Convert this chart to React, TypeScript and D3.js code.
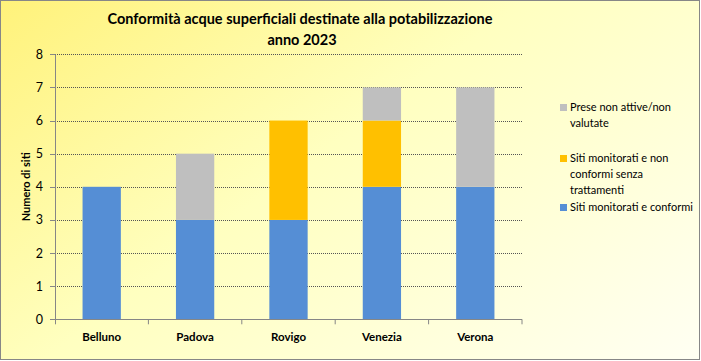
import React from "react";
import * as d3 from "d3";

const categories = ["Belluno", "Padova", "Rovigo", "Venezia", "Verona"];
const conformi = [4, 3, 3, 4, 4];
const nonConformi = [0, 0, 3, 2, 0];
const nonAttive = [0, 2, 0, 1, 3];
const yTicks = [0, 1, 2, 3, 4, 5, 6, 7, 8];

const seriesNames = ["Siti monitorati e conformi", "Siti monitorati e non conformi senza trattamenti", "Prese non attive/non valutate"];
const colors = ["#558ED5", "#FFC000", "#BFBFBF"];

const W = 701, H = 361;
const plot = { left: 55, right: 522, top: 54.3, bottom: 319.3 };
const font = "Lato, 'Open Sans', sans-serif";

export default function App() {
  const x = d3.scaleBand<string>().domain(categories).range([plot.left, plot.right]).paddingInner(0.59).paddingOuter(0.295);
  const xCat = d3.scaleBand<string>().domain(categories).range([plot.left, plot.right]);
  const y = d3.scaleLinear().domain([0, 8]).range([plot.bottom, plot.top]);

  const rows = categories.map((c, i) => ({ cat: c, conformi: conformi[i], nonConformi: nonConformi[i], nonAttive: nonAttive[i] }));
  const stack = d3.stack<any>().keys(["conformi", "nonConformi", "nonAttive"])(rows);

  const legend = [
    { color: colors[2], lines: ["Prese non attive/non", "valutate"], y: 107 },
    { color: colors[1], lines: ["Siti monitorati e non", "conformi senza", "trattamenti"], y: 158 },
    { color: colors[0], lines: ["Siti monitorati e conformi"], y: 207 },
  ];

  return (
    <svg width={W} height={H} style={{ position: "absolute", left: 0, top: 0 }}>
      <defs>
        <linearGradient id="bg" gradientUnits="userSpaceOnUse" x1="0" y1="0" x2="420" y2="560">
          <stop offset="0" stopColor="#FFF27A" />
          <stop offset="0.45" stopColor="#FFFFC0" />
          <stop offset="1" stopColor="#FFFFF2" />
        </linearGradient>
      </defs>
      <rect x={0.5} y={0.5} width={W - 2} height={H - 2} fill="url(#bg)" stroke="#878787" strokeWidth={1} />
      <text x={300} y={24} textAnchor="middle" fontFamily={font} fontWeight="bold" fontSize={14.5} fill="#000">
        Conformità acque superficiali destinate alla potabilizzazione
      </text>
      <text x={302} y={45} textAnchor="middle" fontFamily={font} fontWeight="bold" fontSize={14.5} fill="#000">
        anno 2023
      </text>
      {yTicks.filter((t) => t > 0).map((t) => (
        <line key={t} x1={plot.left} x2={plot.right} y1={Math.round(y(t)) + 0.5} y2={Math.round(y(t)) + 0.5} stroke="#555" strokeWidth={1} strokeDasharray="1,1" />
      ))}
      {stack.map((s, si) =>
        s.map((d, i) =>
          d[1] - d[0] > 0 ? (
            <rect key={si + "-" + i} x={x(categories[i])} width={x.bandwidth()} y={y(d[1])} height={y(d[0]) - y(d[1])} fill={colors[si]} />
          ) : null
        )
      )}
      <line x1={plot.left + 0.5} x2={plot.left + 0.5} y1={plot.top} y2={plot.bottom} stroke="#868686" />
      <line x1={plot.left} x2={plot.right} y1={Math.round(plot.bottom) + 0.5} y2={Math.round(plot.bottom) + 0.5} stroke="#868686" />
      {yTicks.map((t) => (
        <g key={t}>
          <line x1={plot.left - 5} x2={plot.left} y1={Math.round(y(t)) + 0.5} y2={Math.round(y(t)) + 0.5} stroke="#868686" />
          <text x={43} y={y(t) + 4.5} textAnchor="end" fontFamily={font} fontSize={12.5} fill="#000">{t}</text>
        </g>
      ))}
      {categories.map((c, i) => (
        <line key={c} x1={xCat(c)! + xCat.bandwidth()} x2={xCat(c)! + xCat.bandwidth()} y1={plot.bottom} y2={plot.bottom + 5} stroke="#868686" />
      ))}
      <line x1={plot.left + 0.5} x2={plot.left + 0.5} y1={plot.bottom} y2={plot.bottom + 5} stroke="#868686" />
      {categories.map((c) => (
        <text key={c} x={xCat(c)! + xCat.bandwidth() / 2} y={341} textAnchor="middle" fontFamily={font} fontWeight="bold" fontSize={11.5} fill="#000">{c}</text>
      ))}
      <text transform={`translate(30,${(plot.top + plot.bottom) / 2}) rotate(-90)`} textAnchor="middle" fontFamily={font} fontWeight="bold" fontSize={11} fill="#000">
        Numero di siti
      </text>
      {legend.map((l, i) => (
        <g key={i}>
          <rect x={560} y={l.y - 3} width={7} height={7} fill={l.color} />
          {l.lines.map((ln, j) => (
            <text key={j} x={570} y={l.y + 4 + j * 16} fontFamily={font} fontSize={11} fill="#000">{ln}</text>
          ))}
        </g>
      ))}
    </svg>
  );
}
